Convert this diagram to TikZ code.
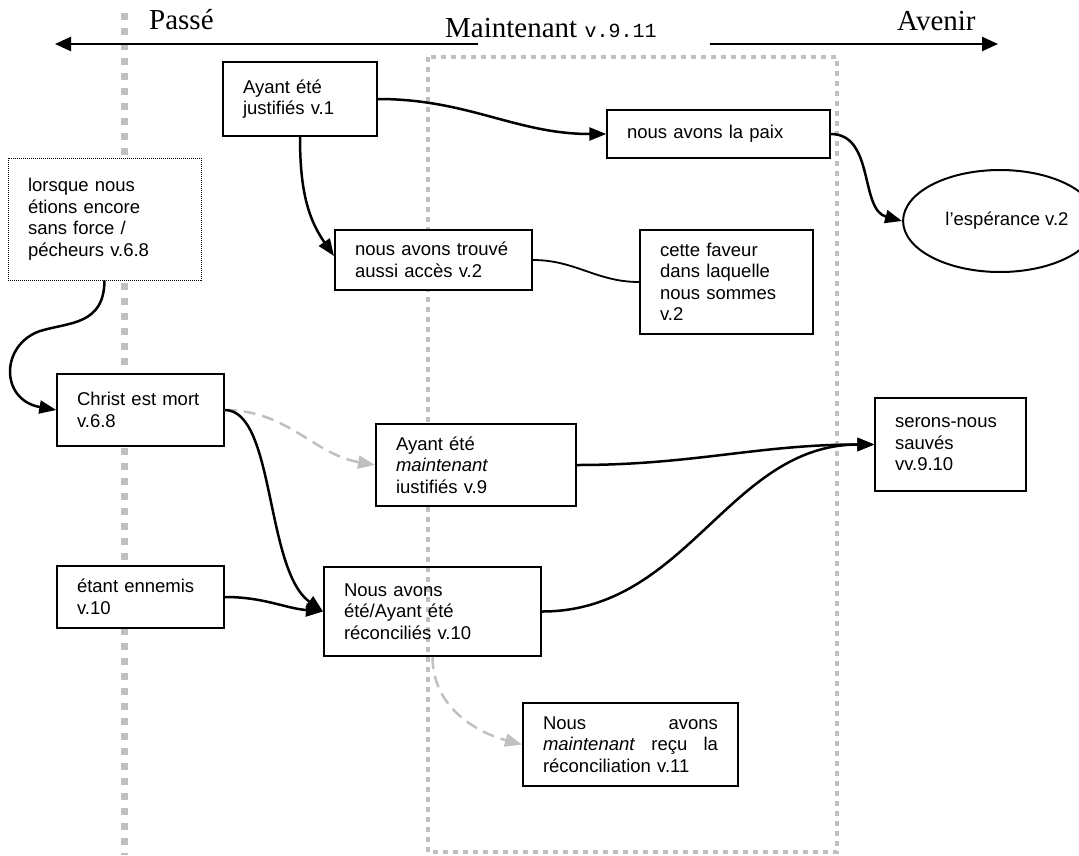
\documentclass[tikz,border=0pt]{standalone}
\usepackage{fontspec}
\setmainfont{Liberation Sans}
\newfontfamily\timesf{Liberation Serif}
\setmonofont{Liberation Mono}
\usetikzlibrary{arrows.meta,shapes.geometric}
\definecolor{guide}{RGB}{192,192,192}

\begin{document}
\begin{tikzpicture}[x=1pt,y=-1pt]
        \tikzstyle{every node}=[font=\fontsize{18.5}{21.5}\selectfont];
        \tikzstyle{box}=[draw,fill=white,line width=2pt,inner xsep=20pt,inner ysep=0pt,align=left];
        \tikzstyle{head}=[anchor=base west,inner sep=0pt,font=\timesf\fontsize{29}{32}\selectfont];
        \tikzstyle{link}=[line width=2.5pt,-{Triangle[length=17pt,width=13pt]}];
        \tikzstyle{faint}=[line width=2.5pt,draw=guide,dash pattern=on 12pt off 7pt,-{Triangle[length=17pt,width=13pt,fill=guide]}];
        \useasboundingbox (0,0) rectangle (1079,855);

          % past / now guides
          \draw[guide,line width=7pt,dash pattern=on 7pt off 8pt] (124,13) -- (124,855);
          \draw[guide,line width=3.5pt,dash pattern=on 5pt off 5pt] (428,57) rectangle (837,852);

          % time axis
          \node[head] (passe) at (149,29) {Passé};
          \node[head] (now) at (445,37) {Maintenant {\ttfamily\fontsize{20}{22}\selectfont v.9.11}};
          \node[head] (avenir) at (897,30) {Avenir};
          \coordinate (pastend) at (55,44);
          \coordinate (nowL) at (478,44);
          \coordinate (nowR) at (710,44);
          \coordinate (futend) at (998,44);
          \draw[line width=2.5pt,-{Triangle[length=16pt,width=14pt]}] (nowL) -- (pastend);
          \draw[line width=2.5pt,-{Triangle[length=16pt,width=14pt]}] (nowR) -- (futend);

          \node[box,text width=114pt,minimum height=74pt] (just1) at (300,99) {Ayant été\\justifiés v.1};
          \node[box,line width=1.4pt,text width=183pt,minimum height=48pt] (paix) at (718.5,134) {nous avons la paix};
          \node[box,line width=1pt,densely dotted,text width=153pt,minimum height=122pt] (sansforce) at (104.5,219) {lorsque nous\\étions encore\\sans force /\\pécheurs v.6.8};
          \node[draw,fill=white,ellipse,line width=2pt,inner sep=0pt,minimum width=162pt,minimum height=102pt] (esp) at (1000,221) {\hspace*{14pt}l’espérance v.2};
          \node[box,text width=157pt,minimum height=60pt] (acces) at (433.5,260) {nous avons trouvé\\aussi accès v.2};
          \node[box,text width=133pt,minimum height=104pt] (faveur) at (726.5,282) {cette faveur\\dans laquelle\\nous sommes\\v.2};
          \node[box,line width=1.4pt,text width=127pt,minimum height=72pt] (mort) at (140.5,410) {Christ est mort\\v.6.8};
          \node[box,text width=160pt,minimum height=82pt] (just9) at (476,465) {Ayant été\\\textit{maintenant}\\iustifiés v.9};
          \node[box,line width=1.1pt,text width=111pt,minimum height=93pt] (sauves) at (950.5,444.5) {serons-nous\\sauvés\\vv.9.10};
          \node[box,text width=127pt,minimum height=62pt] (ennemis) at (140.5,597) {étant ennemis\\v.10};
          \node[box,fill=none,text width=177pt,minimum height=89pt] (recon) at (432.5,611.5) {Nous avons\\été/Ayant été\\réconciliés v.10};
          \node[box,text width=175pt,minimum height=83pt] (recu) at (630.5,744.5) {Nous\hfill avons\\\textit{maintenant}\hfill reçu\hfill la\\réconciliation v.11};

          % links
          \draw[link] (just1.east) to[out=0,in=180] (paix.west);
          \draw[link] (just1.south) to[out=-90,in=125] ([yshift=4pt]acces.west);
          \draw[link] (paix.east) to[out=0,in=165] (esp.west);
          \draw[line width=1.8pt] (acces.east) to[out=0,in=180] (faveur.west);
          \draw[link] (sansforce.south) .. controls (104,325) and (70,322) .. (40,331)
                .. controls (0,345) and (0,400) .. (mort.west);
          \draw[faint] (mort.east) to[out=0,in=170] (just9.west);
          \draw[link] (mort.east) .. controls (275,410) and (265,570) .. (recon.west);
          \draw[link] (ennemis.east) to[out=0,in=175] (recon.west);
          \draw[link] (just9.east) to[out=0,in=180] (sauves.west);
          \draw[link] (recon.east) to[out=0,in=180] (sauves.west);
          \draw[faint] (recon.south) to[out=-90,in=165] (recu.west);
\end{tikzpicture}
\end{document}
